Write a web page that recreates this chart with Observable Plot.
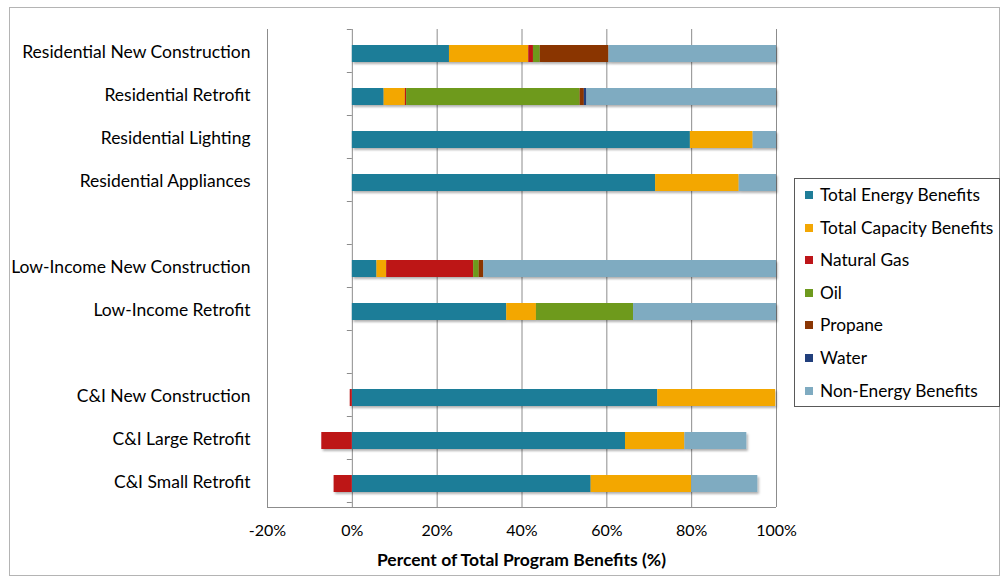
<!DOCTYPE html>
<html>
<head>
<meta charset="utf-8">
<script src="https://cdn.jsdelivr.net/npm/d3@7"></script>
<script src="https://cdn.jsdelivr.net/npm/@observablehq/plot@0.6"></script>
<style>
  body { margin: 0; background: #fff; }
  #chart { position: relative; width: 1001px; height: 576px; font-family: Lato, "Open Sans", sans-serif; color: #000; }
  #frame { position: absolute; left: 9px; top: 7px; width: 991px; height: 569px; border: 1px solid #b4b4b4; box-sizing: border-box; pointer-events: none; }
  #legend { position: absolute; left: 794px; top: 178px; width: 206px; height: 229px; border: 1px solid #595959; box-sizing: border-box; background: #fff; }
  .item { position: absolute; left: 10px; height: 22px; line-height: 22px; font-size: 17.3px; white-space: nowrap; }
  .item span.sw { display: inline-block; width: 8px; height: 8px; margin-right: 7px; vertical-align: 2px; }
  #xtitle { position: absolute; left: 267px; width: 509px; top: 549px; text-align: center; font-weight: bold; font-size: 17.5px; }
</style>
</head>
<body>
<div id="chart">
  <div id="frame"></div>
  <div id="xtitle">Percent of Total Program Benefits (%)</div>
  <div id="legend"></div>
</div>
<script>
// Benefit components by program (percent of total program benefits)
const programs = [
  "Residential New Construction",
  "Residential Retrofit",
  "Residential Lighting",
  "Residential Appliances",
  "Low-Income New Construction",
  "Low-Income Retrofit",
  "C&I New Construction",
  "C&I Large Retrofit",
  "C&I Small Retrofit"
];

// Row order with empty spacer rows between program groups
const rows = [
  "Residential New Construction",
  "Residential Retrofit",
  "Residential Lighting",
  "Residential Appliances",
  "",
  "Low-Income New Construction",
  "Low-Income Retrofit",
  " ",
  "C&I New Construction",
  "C&I Large Retrofit",
  "C&I Small Retrofit"
];

const seriesNames = [
  "Total Energy Benefits",
  "Total Capacity Benefits",
  "Natural Gas",
  "Oil",
  "Propane",
  "Water",
  "Non-Energy Benefits"
];
const seriesColors = ["#1f7d98", "#f3a704", "#bd1519", "#6e9a1e", "#8a3604", "#213f7c", "#7fabc1"];

const totalEnergy   = [22.9,  7.5, 79.7, 71.5,  5.8, 36.4, 72.0, 64.4, 56.3];
const totalCapacity = [18.7,  5.0, 14.8, 19.7,  2.3,  7.0, 27.8, 14.0, 23.7];
const naturalGas    = [ 1.1,  0.3,  0,    0,   20.5,  0,   -0.5, -7.2, -4.3];
const oil           = [ 1.6, 40.9,  0,    0,    1.3, 22.9,  0,    0,    0  ];
const propane       = [16.2,  1.0,  0,    0,    1.1,  0,    0,    0,    0  ];
const water         = [ 0,    0.6,  0,    0,    0,    0,    0,    0,    0  ];
const nonEnergy     = [39.5, 44.7,  5.5,  8.8, 69.0, 33.7,  0,   14.6, 15.6];

const xTicks = [-20, 0, 20, 40, 60, 80, 100];

const seriesValues = [totalEnergy, totalCapacity, naturalGas, oil, propane, water, nonEnergy];
const data = [];
programs.forEach((p, i) => {
  seriesNames.forEach((s, j) => {
    data.push({program: p, series: s, value: seriesValues[j][i]});
  });
});

const gridColor = "#8c8c8c";

const plot = Plot.plot({
  width: 1001,
  height: 576,
  marginLeft: 267,
  marginRight: 225,
  marginTop: 29,
  marginBottom: 69,
  style: {fontFamily: "Lato, 'Open Sans', sans-serif", background: "transparent", color: "#000"},
  x: {domain: [-20, 100], label: null},
  y: {domain: rows, padding: 0, label: null},
  color: {domain: seriesNames, range: seriesColors},
  marks: [
    Plot.gridX(xTicks, {stroke: gridColor, strokeOpacity: 1, strokeWidth: 1}),
    Plot.barX(data, {
      x: "value", y: "program", fill: "series",
      insetTop: 13, insetBottom: 13
    }),
    Plot.axisX(xTicks, {tickSize: 0, tickPadding: 17, tickFormat: d => d + "%", fontSize: 16, label: null}),
    Plot.axisY({tickSize: 0, tickPadding: 17, fontSize: 17.5, dy: -2, label: null})
  ]
});

document.getElementById("chart").insertBefore(plot, document.getElementById("frame"));

// Axis lines and category boundary ticks, placed from the plot's scales
const svg = d3.select(plot);
const xs = plot.scale("x");
const ys = plot.scale("y");
const [yTop, yBottom] = ys.range;
const x0 = xs.apply(0);
const g = svg.append("g").attr("stroke", gridColor).attr("stroke-width", 1);
g.append("line")
  .attr("x1", xs.apply(-20)).attr("x2", xs.apply(100))
  .attr("y1", yBottom + 0.5).attr("y2", yBottom + 0.5);
d3.range(rows.length + 1).forEach(i => {
  const yy = Math.round(yTop + i * ys.step) + 0.5;
  g.append("line").attr("x1", x0 - 5).attr("x2", x0).attr("y1", yy).attr("y2", yy);
});

// Soft shadow under the bars
const defs = svg.insert("defs", ":first-child");
const f = defs.append("filter").attr("id", "barShadow").attr("x", "-5%").attr("y", "-30%").attr("width", "110%").attr("height", "180%");
f.append("feDropShadow").attr("dx", 1.5).attr("dy", 2).attr("stdDeviation", 1.2).attr("flood-color", "#000").attr("flood-opacity", 0.3);
svg.selectAll("g[aria-label='bar']").attr("filter", "url(#barShadow)");

// Legend
const legend = d3.select("#legend");
seriesNames.forEach((s, i) => {
  const it = legend.append("div").attr("class", "item").style("top", (5 + i * 32.6) + "px");
  it.append("span").attr("class", "sw").style("background", seriesColors[i]);
  it.append("span").text(s);
});
</script>
</body>
</html>
